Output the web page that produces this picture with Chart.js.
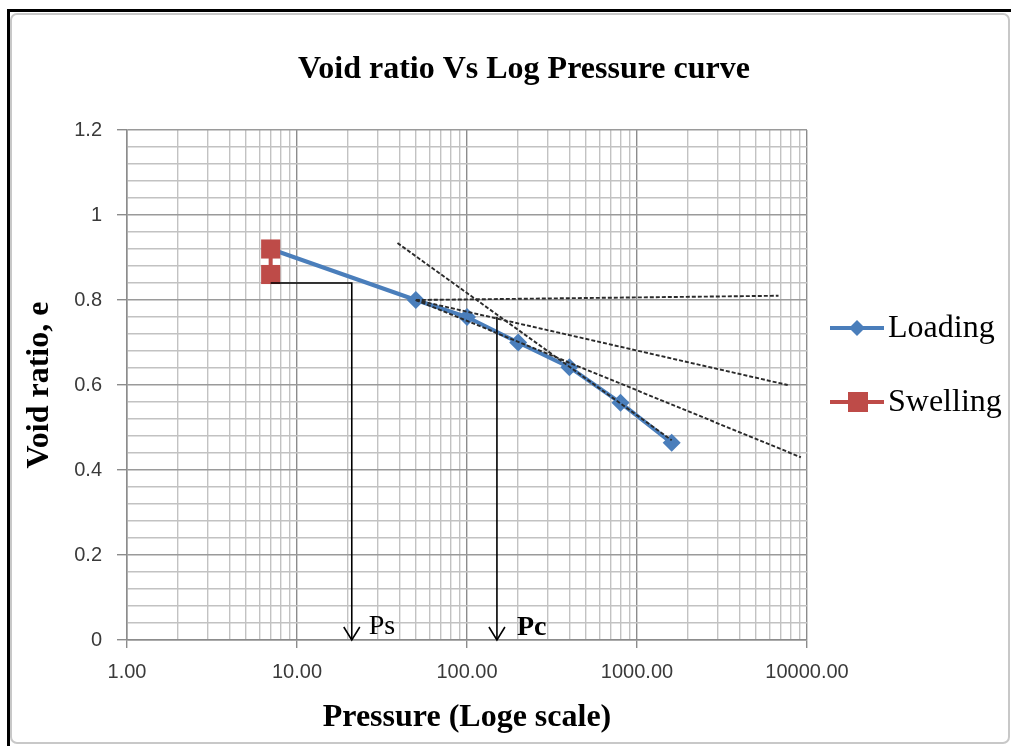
<!DOCTYPE html>
<html>
<head>
<meta charset="utf-8">
<title>Void ratio Vs Log Pressure curve</title>
<script src="https://cdn.jsdelivr.net/npm/chart.js@4.4.1/dist/chart.umd.min.js"></script>
<style>
  html, body { margin: 0; padding: 0; background: #fff; }
  #edgeTop { position: absolute; left: 7px; top: 9px; width: 1004px; height: 3px; background: #000; }
  #edgeLeft { position: absolute; left: 7px; top: 9px; width: 3px; height: 737px; background: #000; }
  #panel { position: absolute; left: 10px; top: 13px; width: 996px; height: 727px;
           border: 2px solid #c8c8c8; border-radius: 7px; }
  #wrap { position: absolute; left: 0; top: 0; width: 1011px; height: 746px; }
</style>
</head>
<body>
<div id="panel"></div>
<div id="edgeTop"></div>
<div id="edgeLeft"></div>
<div id="wrap"><canvas id="chart" width="1011" height="746"></canvas></div>
<script>
// Oedometer test: void ratio against applied pressure
const loadingPressure = [7, 50, 100, 200, 400, 800, 1600];
const loadingVoidRatio = [0.92, 0.80, 0.76, 0.70, 0.642, 0.558, 0.464];
const swellingPressure = [7, 7];
const swellingVoidRatio = [0.92, 0.86];

// Casagrande construction lines
const virginPressure = [39, 1600];
const virginVoidRatio = [0.934, 0.47];
const horizontalPressure = [50, 6800];
const horizontalVoidRatio = [0.80, 0.81];
const bisectorPressure = [50, 7700];
const bisectorVoidRatio = [0.80, 0.60];
const tangentPressure = [50, 9200];
const tangentVoidRatio = [0.80, 0.43];

// Pressure read-offs (Ps and Pc)
const psPressure = [7, 21, 21];
const psVoidRatio = [0.84, 0.84, 0];
const pcPressure = [150, 150];
const pcVoidRatio = [0.76, 0];

// Axis ticks
const xDecades = [1, 10, 100, 1000, 10000];
const yTickLabels = ['0', '0.2', '0.4', '0.6', '0.8', '1', '1.2'];
const yMinorPerMajor = 5;

const pts = (xs, ys) => xs.map((v, i) => ({ x: v, y: ys[i] }));

const isDecade = v => xDecades.some(d => Math.abs(d - v) < 1e-9);
const isMajorY = v => Math.abs(v * 5 - Math.round(v * 5)) < 1e-6;

const construction = (label, xs, ys) => ({
  label, data: pts(xs, ys), showLine: true, borderColor: '#2a2a2a',
  borderWidth: 1.9, borderDash: [4, 2], pointRadius: 0, order: 1
});
const marker = (label, xs, ys) => ({
  label, data: pts(xs, ys), showLine: true, borderColor: '#000',
  borderWidth: 1.6, pointRadius: 0, order: 2
});

const serif = "'Liberation Serif', 'Times New Roman', serif";
const sans = "'Liberation Sans', Arial, sans-serif";

// Arrowheads, Ps / Pc labels and the series key
const annotations = {
  id: 'annotations',
  afterDatasetsDraw(chart) {
    const { ctx, scales: { x, y } } = chart;
    ctx.save();
    const reads = [
      { xs: psPressure, ys: psVoidRatio, text: 'Ps', weight: 'normal', dx: 17, dy: -6 },
      { xs: pcPressure, ys: pcVoidRatio, text: 'Pc', weight: 'bold', dx: 20, dy: -5 }
    ];
    reads.forEach(r => {
      const px = x.getPixelForValue(r.xs[r.xs.length - 1]);
      const py = y.getPixelForValue(r.ys[r.ys.length - 1]);
      ctx.strokeStyle = '#000';
      ctx.lineWidth = 1.6;
      ctx.beginPath();
      ctx.moveTo(px - 8, py - 13);
      ctx.lineTo(px, py);
      ctx.lineTo(px + 8, py - 13);
      ctx.stroke();
      ctx.fillStyle = '#000';
      ctx.font = r.weight + ' 28px ' + serif;
      ctx.textAlign = 'left';
      ctx.textBaseline = 'alphabetic';
      ctx.fillText(r.text, px + r.dx, py + r.dy);
    });

    // Key for the two measured series
    const keyRows = [328, 402];
    [0, 1].forEach((di, k) => {
      const ds = chart.data.datasets[di];
      const cy = keyRows[k];
      ctx.strokeStyle = ds.borderColor;
      ctx.lineWidth = 4;
      ctx.beginPath();
      ctx.moveTo(830, cy);
      ctx.lineTo(884, cy);
      ctx.stroke();
      ctx.fillStyle = ds.pointBackgroundColor;
      ctx.beginPath();
      if (ds.pointStyle === 'rectRot') {
        const r = 8;
        ctx.moveTo(857, cy - r); ctx.lineTo(857 + r, cy);
        ctx.lineTo(857, cy + r); ctx.lineTo(857 - r, cy);
        ctx.closePath();
      } else {
        ctx.rect(848, cy - 10, 20, 20);
      }
      ctx.fill();
      ctx.fillStyle = '#000';
      ctx.font = '32px ' + serif;
      ctx.textAlign = 'left';
      ctx.textBaseline = 'middle';
      ctx.fillText(ds.label, 888, cy + 1);
    });
    ctx.restore();
  }
};

new Chart(document.getElementById('chart'), {
  type: 'scatter',
  data: {
    datasets: [
      {
        label: 'Loading', data: pts(loadingPressure, loadingVoidRatio), showLine: true,
        borderColor: '#4a7ebb', borderWidth: 4, pointStyle: 'rectRot', pointRadius: 9,
        pointBackgroundColor: '#4a7ebb', pointBorderColor: '#4a7ebb', pointBorderWidth: 0, order: 10
      },
      {
        label: 'Swelling', data: pts(swellingPressure, swellingVoidRatio), showLine: true,
        borderColor: '#be4b48', borderWidth: 4, pointStyle: 'rect', pointRadius: 13.5,
        pointBackgroundColor: '#be4b48', pointBorderColor: '#be4b48', pointBorderWidth: 0, order: 5
      },
      construction('Virgin line', virginPressure, virginVoidRatio),
      construction('Horizontal', horizontalPressure, horizontalVoidRatio),
      construction('Bisector', bisectorPressure, bisectorVoidRatio),
      construction('Tangent', tangentPressure, tangentVoidRatio),
      marker('Ps', psPressure, psVoidRatio),
      marker('Pc', pcPressure, pcVoidRatio)
    ]
  },
  options: {
    responsive: false,
    animation: false,
    events: [],
    layout: { padding: { left: 37, right: 0, top: 0, bottom: 0 } },
    plugins: {
      legend: { display: false },
      tooltip: { enabled: false },
      title: {
        display: true,
        text: 'Void ratio Vs Log Pressure curve',
        color: '#000',
        font: { family: serif, size: 32, weight: 'bold', lineHeight: 1.2 },
        padding: { top: 51, bottom: 40.6 }
      }
    },
    scales: {
      x: {
        type: 'logarithmic',
        min: xDecades[0],
        max: xDecades[xDecades.length - 1],
        afterBuildTicks(scale) {
          const ticks = [];
          xDecades.forEach((d, i) => {
            if (i === xDecades.length - 1) { ticks.push({ value: d }); return; }
            for (let m = 1; m <= 9; m++) ticks.push({ value: d * m });
          });
          scale.ticks = ticks;
        },
        afterFit(scale) { scale.height = 106; },
        ticks: {
          autoSkip: false,
          maxRotation: 0,
          minRotation: 0,
          padding: 12,
          color: '#3a3a3a',
          font: { family: sans, size: 20 },
          major: { enabled: false },
          callback: v => isDecade(v) ? Number(v).toFixed(2) : ''
        },
        grid: {
          tickLength: 8,
          lineWidth: 1.4,
          color: c => (c.tick && isDecade(c.tick.value)) ? '#8c8c8c' : '#c2c2c2',
          tickColor: c => (c.tick && isDecade(c.tick.value)) ? '#8c8c8c' : 'rgba(0,0,0,0)'
        },
        border: { color: '#8c8c8c', width: 1.5 },
        title: {
          display: true,
          text: 'Pressure (Loge scale)',
          color: '#000',
          font: { family: serif, size: 32, weight: 'bold', lineHeight: 1.2 },
          padding: { top: 0, bottom: 9 }
        }
      },
      y: {
        type: 'linear',
        min: 0,
        max: 1.2,
        afterBuildTicks(scale) {
          const n = (yTickLabels.length - 1) * yMinorPerMajor;
          const ticks = [];
          for (let i = 0; i <= n; i++) ticks.push({ value: Math.round(i * 0.04 * 100) / 100 });
          scale.ticks = ticks;
        },
        afterFit(scale) { scale.width = 90; },
        ticks: {
          autoSkip: false,
          padding: 15,
          color: '#3a3a3a',
          font: { family: sans, size: 20 },
          callback: v => isMajorY(v) ? yTickLabels[Math.round(v * 5)] : ''
        },
        grid: {
          tickLength: 10,
          lineWidth: 1.4,
          color: c => (c.tick && isMajorY(c.tick.value)) ? '#9a9a9a' : '#c2c2c2',
          tickColor: c => (c.tick && isMajorY(c.tick.value)) ? '#8c8c8c' : 'rgba(0,0,0,0)'
        },
        border: { color: '#8c8c8c', width: 1.5 },
        title: {
          display: true,
          text: 'Void ratio, e',
          color: '#000',
          font: { family: serif, size: 32, weight: 'bold', lineHeight: 0.15 },
          padding: { top: 0.6, bottom: 0 }
        }
      },
      // keeps room on the right for the series key
      keyGutter: {
        type: 'linear',
        position: 'right',
        afterFit(scale) { scale.width = 204; },
        ticks: { display: false },
        grid: { display: false, drawTicks: false },
        border: { display: false }
      }
    }
  },
  plugins: [annotations]
});
</script>
</body>
</html>
